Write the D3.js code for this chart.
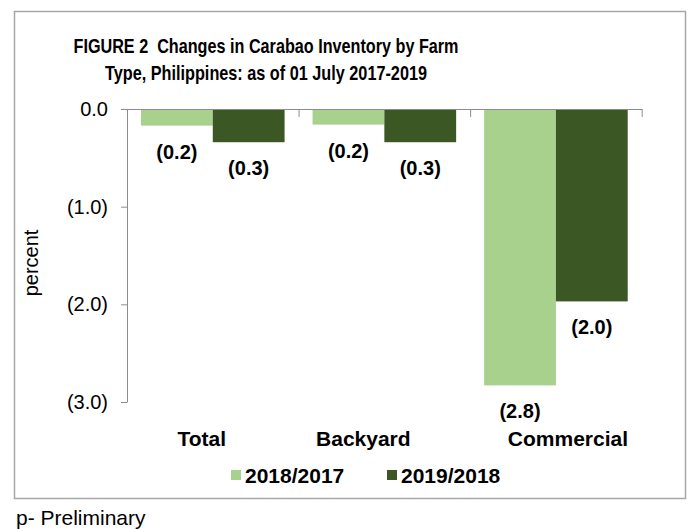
<!DOCTYPE html>
<html>
<head>
<meta charset="utf-8">
<script src="https://cdn.jsdelivr.net/npm/d3@7"></script>
<style>
  body { margin: 0; background: #fff; font-family: Arial, "Liberation Sans", sans-serif; }
  svg { display: block; }
</style>
</head>
<body>
<svg id="chart" width="688" height="529"></svg>
<script>
// data (percent change, negative = decrease)
const categories = ["Total", "Backyard", "Commercial"]
const seriesNames = ["2018/2017", "2019/2018"]
const values2018 = [-0.17, -0.16, -2.83]
const values2019 = [-0.34, -0.34, -1.97]
const yTicks = [0, -1, -2, -3]

const colors = ["#a9d18e", "#3b5724"]
const titleLines = ["FIGURE 2  Changes in Carabao Inventory by Farm", "Type, Philippines: as of 01 July 2017-2019"]

const svg = d3.select("#chart")

// outer frame
svg.append("rect")
    .attr("x", 14.5).attr("y", 11.5)
    .attr("width", 671).attr("height", 487)
    .attr("fill", "none")
    .attr("stroke", "#a6a6a6")
    .attr("stroke-width", 1.5)

// title, squeezed like the original
const titleWidths = [385, 322]
svg.append("g").selectAll("text")
    .data(titleLines)
    .enter()
    .append("text")
        .attr("x", 266)
        .attr("y", (d, i) => 53 + i * 27)
        .attr("text-anchor", "middle")
        .attr("font-weight", "bold")
        .attr("font-size", 21)
        .attr("fill", "#000")
        .attr("textLength", (d, i) => titleWidths[i])
        .attr("lengthAdjust", "spacingAndGlyphs")
        .style("white-space", "pre")
        .text(d => d)

const plotLeft = 127, plotRight = 641.7, plotTop = 109, plotBottom = 402

const x0 = d3.scaleBand()
    .domain(categories)
    .range([plotLeft, plotRight])
    .padding(0)

const x1 = d3.scaleBand()
    .domain(seriesNames)
    .range([0, x0.bandwidth()])
    .paddingInner(0)
    .paddingOuter(0.195)

const y = d3.scaleLinear()
    .domain([-3, 0])
    .range([plotBottom, plotTop])

const rows = categories.map((c, i) => ({
    cat: c,
    vals: [values2018[i], values2019[i]]
}))

// bars
const groups = svg.append("g").selectAll("g")
    .data(rows)
    .enter()
    .append("g")
        .attr("transform", d => `translate(${x0(d.cat)},0)`)

groups.selectAll("rect")
    .data(d => d.vals.map((v, j) => ({ s: seriesNames[j], v: v, j: j })))
    .enter()
    .append("rect")
        .attr("x", d => x1(d.s))
        .attr("y", y(0))
        .attr("width", x1.bandwidth())
        .attr("height", d => y(d.v) - y(0))
        .attr("fill", d => colors[d.j])

// data labels below each bar
const fmt = v => "(" + Math.abs(v).toFixed(1) + ")"
groups.selectAll("text")
    .data(d => d.vals.map((v, j) => ({ s: seriesNames[j], v: v })))
    .enter()
    .append("text")
        .attr("x", d => x1(d.s) + x1.bandwidth() / 2)
        .attr("y", d => y(d.v) + 33)
        .attr("text-anchor", "middle")
        .attr("font-weight", "bold")
        .attr("font-size", 20)
        .attr("fill", "#000")
        .text(d => fmt(d.v))

// y axis
const yAxis = svg.append("g")
    .attr("transform", `translate(${plotLeft},0)`)
    .call(d3.axisLeft(y)
        .tickValues(yTicks)
        .tickSize(6)
        .tickSizeOuter(0)
        .tickPadding(13)
        .tickFormat(d => d === 0 ? "0.0" : fmt(d)))
yAxis.select(".domain").attr("stroke", "#8c8c8c")
yAxis.selectAll(".tick line").attr("stroke", "#8c8c8c")
yAxis.selectAll(".tick text")
    .attr("font-size", 20)
    .attr("font-family", "Arial, 'Liberation Sans', sans-serif")
    .attr("fill", "#000")

// category axis along the zero line, ticks between groups
const xEdge = d3.scaleLinear().domain([0, categories.length]).range([plotLeft, plotRight])
const xAxis = svg.append("g")
    .attr("transform", `translate(0,${y(0)})`)
    .call(d3.axisBottom(xEdge)
        .tickValues(d3.range(categories.length + 1))
        .tickSize(8)
        .tickSizeOuter(0)
        .tickFormat(""))
xAxis.select(".domain").attr("stroke", "#8c8c8c")
xAxis.selectAll(".tick line").attr("stroke", "#8c8c8c")

// category labels sit near the bottom like the original
const labelNudge = [-11, -21, 12]
svg.append("g").selectAll("text")
    .data(categories)
    .enter()
    .append("text")
        .attr("x", (d, i) => x0(d) + x0.bandwidth() / 2 + labelNudge[i])
        .attr("y", 446)
        .attr("text-anchor", "middle")
        .attr("font-weight", "bold")
        .attr("font-size", 21)
        .attr("fill", "#000")
        .text(d => d)

// y title
svg.append("text")
    .attr("transform", "translate(38,263) rotate(-90)")
    .attr("text-anchor", "middle")
    .attr("font-size", 20)
    .attr("fill", "#000")
    .text("percent")

// legend
const legendX = [231, 387]
const legend = svg.append("g").selectAll("g")
    .data(seriesNames)
    .enter()
    .append("g")
        .attr("transform", (d, i) => `translate(${legendX[i]},470)`)
legend.append("rect")
    .attr("width", 10).attr("height", 10)
    .attr("fill", (d, i) => colors[i])
legend.append("text")
    .attr("x", 14)
    .attr("y", 12.5)
    .attr("font-weight", "bold")
    .attr("font-size", 21)
    .attr("fill", "#000")
    .text(d => d)

// footnote
svg.append("text")
    .attr("x", 16)
    .attr("y", 525)
    .attr("font-size", 21)
    .attr("fill", "#000")
    .text("p- Preliminary")
</script>
</body>
</html>
